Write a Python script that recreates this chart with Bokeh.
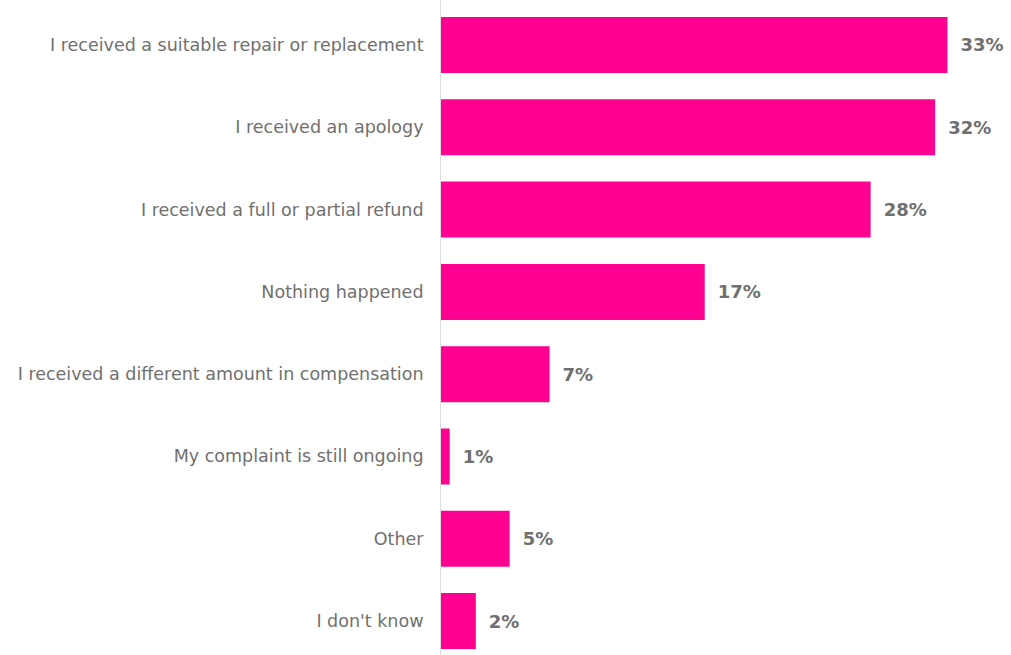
from bokeh.plotting import figure
from bokeh.models import ColumnDataSource, Range1d, FixedTicker, LabelSet
from bokeh.core.properties import value
from bokeh.embed import file_html
from bokeh.resources import INLINE

categories = [
    "I received a suitable repair or replacement",
    "I received an apology",
    "I received a full or partial refund",
    "Nothing happened",
    "I received a different amount in compensation",
    "My complaint is still ongoing",
    "Other",
    "I don't know",
]
values = [33.0, 32.2, 28.0, 17.2, 7.1, 0.6, 4.5, 2.3]
value_labels = ["33%", "32%", "28%", "17%", "7%", "1%", "5%", "2%"]

pos = list(range(len(categories)))
src = ColumnDataSource(dict(y=pos, v=values, lab=value_labels, cat=categories))

p = figure(width=1011, height=655, output_backend="svg", toolbar_location=None,
           x_range=Range1d(0, 37.17), y_range=Range1d(7.418, -0.5407),
           min_border_left=440, min_border_right=0, min_border_top=0, min_border_bottom=0)

p.hbar(y="y", left=0, right="v", height=0.68, source=src,
       fill_color="#FF0090", line_color=None)

labels = LabelSet(x="v", y="y", text="lab", source=src, x_offset=13,
                  text_baseline="middle", text_align="left",
                  text_font=value("DejaVu Sans"), text_font_style="bold",
                  text_font_size="18px", text_color="#6f6f6f")
p.add_layout(labels)

p.xaxis.visible = False
p.xgrid.visible = False
p.ygrid.visible = False
p.outline_line_color = None

ya = p.yaxis[0]
ya.ticker = FixedTicker(ticks=pos)
ya.major_label_overrides = {i: c for i, c in enumerate(categories)}
ya.major_tick_line_color = None
ya.minor_tick_line_color = None
ya.axis_line_color = "#dcdcdc"
ya.major_label_standoff = 11
ya.major_label_text_font = "DejaVu Sans"
ya.major_label_text_font_size = "17.5px"
ya.major_label_text_color = "#707070"

open("out.html", "w").write(file_html(p, INLINE))
